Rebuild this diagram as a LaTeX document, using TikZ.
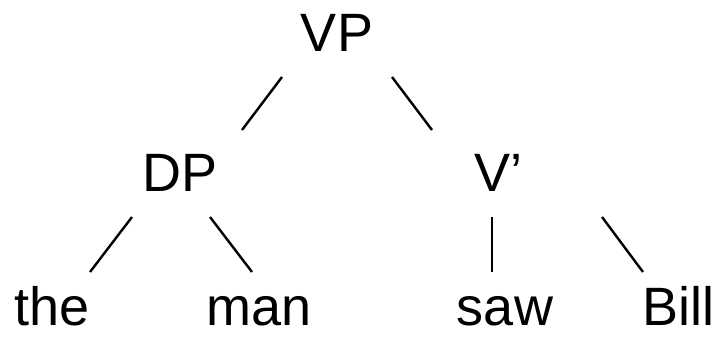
\documentclass[tikz,border=0pt]{standalone}
\usepackage{fontspec}
\setmainfont{Liberation Sans}
\usetikzlibrary{positioning}
\tikzset {
  tree node/.style = {
    inner sep = 0,
    anchor = base,
    font = \fontsize{54}{60}\selectfont
  },
  % phrase label
  cat/.style = {
    tree node
  },
  % word at the bottom
  word/.style = {
    tree node
  },
  % line between mother and daughter
  branch/.style = {
    draw = black,
    line width = 2.4pt
  }
}

\begin{document}
\begin{tikzpicture}[x=1pt, y=1pt]
    \useasboundingbox (0,0) rectangle (719,340);

    \node[cat] (vp) at (337,288) {VP};
    \node[cat] (dp) at (180,148) {DP};
    \node[cat] (vbar) at (498,148) {V’};
    \node[word] (the) at (52,15) {the};
    \node[word] (man) at (259,15) {man};
    \node[word] (saw) at (505,15) {saw};
    \node[word] (bill) at (678,15) {Bill};

    \draw[branch] ([xshift=-55pt, yshift=-25pt]vp.base)
      -- ([xshift=62pt, yshift=62pt]dp.base);
    \draw[branch] ([xshift=55pt, yshift=-25pt]vp.base)
      -- ([xshift=-66pt, yshift=62pt]vbar.base);

    \draw[branch] ([xshift=-48pt, yshift=-25pt]dp.base)
      -- ([xshift=38pt, yshift=53pt]the.base);
    \draw[branch] ([xshift=30pt, yshift=-25pt]dp.base)
      -- ([xshift=-7pt, yshift=53pt]man.base);

    \draw[branch] ([xshift=-6pt, yshift=-25pt]vbar.base)
      -- ([xshift=-13pt, yshift=53pt]saw.base);
    \draw[branch] ([xshift=104pt, yshift=-25pt]vbar.base)
      -- ([xshift=-35pt, yshift=53pt]bill.base);

  \end{tikzpicture}
\end{document}
